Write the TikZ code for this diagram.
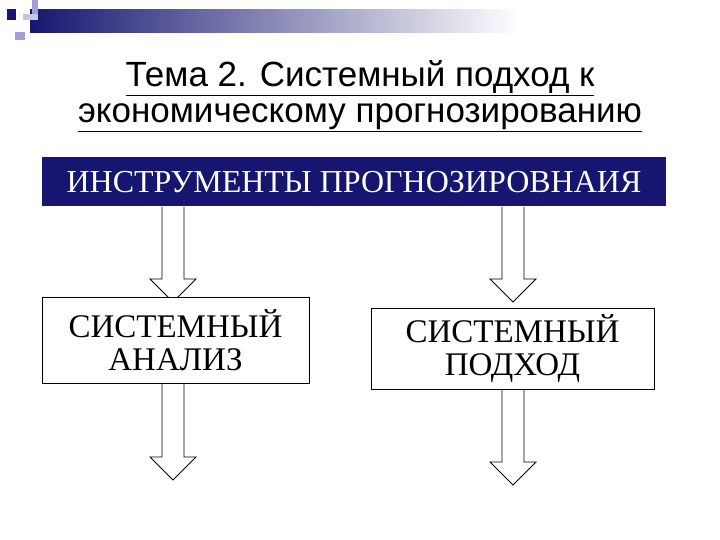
\documentclass[tikz,border=0pt]{standalone}
\usepackage{fontspec}
\setmainfont{Liberation Serif}
\newfontfamily\arialf{Liberation Sans}
\usetikzlibrary{calc}
\definecolor{navy}{RGB}{22,22,112}
\definecolor{lav}{RGB}{160,160,210}
\tikzset{
  box/.style={draw=black,line width=0.8pt,fill=white,inner sep=0pt,align=center,font=\fontsize{33}{33}\selectfont},
  arr/.style={draw=black,line width=0.8pt,fill=white}
}
\begin{document}
\begin{tikzpicture}[x=1pt,y=-1pt]
\useasboundingbox (0,0) rectangle (720,540);
\fill[white] (0,0) rectangle (720,540);
% decoration
\shade[left color=navy,right color=white] (30,10) rectangle (520,33);
\fill[lav] (32,0) rectangle (38,20);
\fill[lav!60] (23,14) rectangle (38,20);
\fill[navy] (7,9) rectangle (16,20);
\fill[lav] (15,32) rectangle (25,40);
% title
\node (title) at (360,96) [align=center,font=\arialf\fontsize{35}{36}\selectfont] {\underline{Тема 2. Системный подход к}\\\underline{экономическому прогнозированию}};
% band
\node (band) at (354,182) [fill=navy,minimum width=624,minimum height=49,inner sep=0pt,text=white,font=\fontsize{32}{32}\selectfont] {ИНСТРУМЕНТЫ ПРОГНОЗИРОВНАИЯ};
% arrows
\foreach \cx/\ya/\yb in {173/207/302, 513/207/302, 173/383/480, 513/389/485}{
  \draw[arr] (\cx-11,\ya) -- (\cx-11,\yb-23) -- (\cx-23,\yb-23) -- (\cx,\yb) -- (\cx+23,\yb-23) -- (\cx+11,\yb-23) -- (\cx+11,\ya);
}
\node (b1) at (175.5,340) [box,minimum width=267,minimum height=86] {СИСТЕМНЫЙ\\АНАЛИЗ};
\node (b2) at (512.5,348.5) [box,minimum width=283,minimum height=81] {СИСТЕМНЫЙ\\ПОДХОД};
\end{tikzpicture}
\end{document}
